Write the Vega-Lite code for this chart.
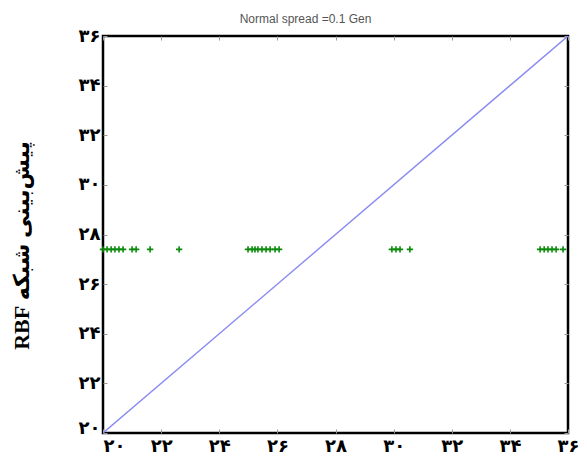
{
  "$schema": "https://vega.github.io/schema/vega-lite/v6.json",
  "width": 465,
  "height": 397,
  "autosize": {"type": "none"},
  "padding": {"left": 103, "top": 36, "right": 19, "bottom": 26},
  "background": "white",
  "title": {
    "text": "Normal spread =0.1 Gen",
    "font": "Liberation Sans",
    "fontSize": 12,
    "fontWeight": "normal",
    "color": "#555555",
    "offset": 1,
    "anchor": "middle",
    "dx": -30
  },
  "config": {
    "view": {"stroke": "black", "strokeWidth": 2.5},
    "axis": {
      "domain": false,
      "grid": false,
      "tickSize": -4,
      "tickColor": "#999999",
      "tickWidth": 1,
      "labelFont": "DejaVu Sans",
      "labelFontWeight": "bold",
      "labelFontSize": 18,
      "labelColor": "black"
    }
  },
  "datasets": {
    "diag": [{"x": 20, "y": 20}, {"x": 36, "y": 36}],
    "pts": [
      {"actual": 20.0, "predicted": 27.4},
      {"actual": 20.14, "predicted": 27.4},
      {"actual": 20.28, "predicted": 27.4},
      {"actual": 20.41, "predicted": 27.4},
      {"actual": 20.55, "predicted": 27.4},
      {"actual": 20.69, "predicted": 27.4},
      {"actual": 21.0, "predicted": 27.4},
      {"actual": 21.14, "predicted": 27.4},
      {"actual": 21.62, "predicted": 27.4},
      {"actual": 22.62, "predicted": 27.4},
      {"actual": 24.99, "predicted": 27.4},
      {"actual": 25.13, "predicted": 27.4},
      {"actual": 25.23, "predicted": 27.4},
      {"actual": 25.33, "predicted": 27.4},
      {"actual": 25.47, "predicted": 27.4},
      {"actual": 25.61, "predicted": 27.4},
      {"actual": 25.75, "predicted": 27.4},
      {"actual": 25.92, "predicted": 27.4},
      {"actual": 26.06, "predicted": 27.4},
      {"actual": 29.94, "predicted": 27.4},
      {"actual": 30.08, "predicted": 27.4},
      {"actual": 30.22, "predicted": 27.4},
      {"actual": 30.56, "predicted": 27.4},
      {"actual": 35.04, "predicted": 27.4},
      {"actual": 35.18, "predicted": 27.4},
      {"actual": 35.31, "predicted": 27.4},
      {"actual": 35.45, "predicted": 27.4},
      {"actual": 35.59, "predicted": 27.4},
      {"actual": 35.83, "predicted": 27.4}
    ]
  },
  "layer": [
    {
      "data": {"name": "diag"},
      "mark": {"type": "line", "color": "#8a8af2", "strokeWidth": 1.4, "clip": true},
      "encoding": {
        "x": {
          "field": "x", "type": "quantitative",
          "scale": {"domain": [20, 36], "nice": false, "zero": false},
          "axis": {
            "orient": "bottom",
            "values": [20, 22, 24, 26, 28, 30, 32, 34, 36],
            "title": null,
            "labelPadding": 8,
            "labelFlush": false,
            "labelAlign": {"condition": {"test": "datum.value == 20", "value": "left"}, "value": "center"},
            "labelExpr": "['۰','۱','۲','۳','۴','۵','۶','۷','۸','۹'][floor(datum.value/10)] + ['۰','۱','۲','۳','۴','۵','۶','۷','۸','۹'][datum.value % 10]"
          }
        },
        "y": {
          "field": "y", "type": "quantitative",
          "scale": {"domain": [20, 36], "nice": false, "zero": false},
          "axis": {
            "orient": "left",
            "values": [20, 22, 24, 26, 28, 30, 32, 34, 36],
            "labelPadding": 7,
            "labelFlush": false,
            "labelBaseline": {"condition": {"test": "datum.value == 20", "value": "alphabetic"}, "value": "middle"},
            "labelExpr": "['۰','۱','۲','۳','۴','۵','۶','۷','۸','۹'][floor(datum.value/10)] + ['۰','۱','۲','۳','۴','۵','۶','۷','۸','۹'][datum.value % 10]",
            "title": "‫پیش‌بینی شبکه RBF‬",
            "titleFont": "Liberation Serif, DejaVu Sans",
            "titleFontWeight": "bold",
            "titleFontSize": 22,
            "titleColor": "black",
            "titleAngle": -90,
            "titleBaseline": "middle",
            "titleAlign": "center",
            "titleX": -82,
            "titleY": 209
          }
        }
      }
    },
    {
      "data": {"name": "pts"},
      "mark": {
        "type": "point",
        "shape": "M-1,0L1,0M0,-1L0,1",
        "size": 40,
        "filled": false,
        "stroke": "#0a8a0a",
        "strokeWidth": 1.6,
        "opacity": 1
      },
      "encoding": {
        "x": {
          "field": "actual", "type": "quantitative",
          "scale": {"domain": [20, 36], "nice": false, "zero": false},
          "axis": {"orient": "top", "values": [20, 22, 24, 26, 28, 30, 32, 34, 36], "labels": false, "title": null}
        },
        "y": {
          "field": "predicted", "type": "quantitative",
          "scale": {"domain": [20, 36], "nice": false, "zero": false},
          "axis": {"orient": "right", "values": [20, 22, 24, 26, 28, 30, 32, 34, 36], "labels": false, "title": null}
        }
      }
    }
  ],
  "resolve": {"axis": {"x": "independent", "y": "independent"}}
}
